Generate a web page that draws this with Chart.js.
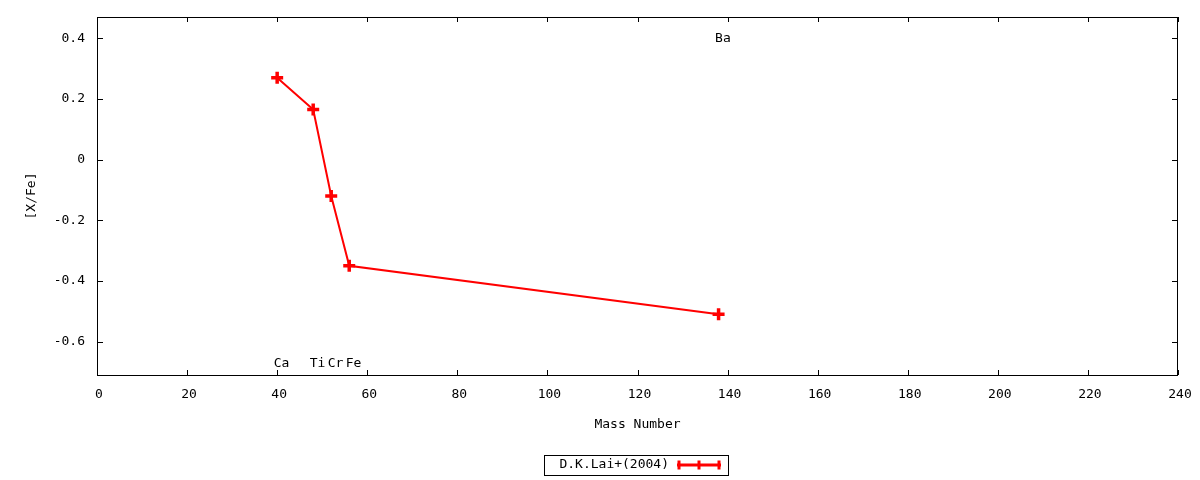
<!DOCTYPE html>
<html>
<head>
<meta charset="utf-8">
<script src="https://cdn.jsdelivr.net/npm/chart.js@4.4.1/dist/chart.umd.min.js"></script>
<style>
  html, body { margin: 0; padding: 0; background: #fff; }
  #wrap { width: 1200px; height: 480px; }
</style>
</head>
<body>
<div id="wrap"><canvas id="abund"></canvas></div>
<script>
// abundances of D.K.Lai+(2004)
var elements = ["Ca", "Ti", "Cr", "Fe", "Ba"];
var massNumber = [40, 48, 52, 56, 138];
var xFe = [0.27, 0.165, -0.12, -0.35, -0.51];
// where the element names sit (y value)
var labelY = [-0.672, -0.672, -0.672, -0.672, 0.40];

var xTicks = [0, 20, 40, 60, 80, 100, 120, 140, 160, 180, 200, 220, 240];
var yTicks = [-0.6, -0.4, -0.2, 0, 0.2, 0.4];

var FONT = "'DejaVu Sans Mono', monospace";

var points = [];
for (var i = 0; i < massNumber.length; i++) {
    points.push({x: massNumber[i], y: xFe[i]});
}

// gnuplot look: full frame, inward ticks, labels, boxed key
var gnuplotFrame = {
    id: 'gnuplotFrame',
    afterDraw: function(chart) {
        var ctx = chart.ctx;
        var a = chart.chartArea;
        var xs = chart.scales.x, ys = chart.scales.y;
        ctx.save();
        ctx.strokeStyle = '#000';
        ctx.lineWidth = 1;
        ctx.strokeRect(a.left + 0.5, a.top + 0.5, a.right - a.left - 1, a.bottom - a.top);

        ctx.beginPath();
        xTicks.forEach(function(v) {
            var px = Math.round(xs.getPixelForValue(v)) + 0.5;
            ctx.moveTo(px, a.bottom); ctx.lineTo(px, a.bottom - 5);
            ctx.moveTo(px, a.top); ctx.lineTo(px, a.top + 5);
        });
        yTicks.forEach(function(v) {
            var py = Math.round(ys.getPixelForValue(v)) + 0.5;
            ctx.moveTo(a.left, py); ctx.lineTo(a.left + 6, py);
            ctx.moveTo(a.right, py); ctx.lineTo(a.right - 6, py);
        });
        ctx.stroke();

        ctx.fillStyle = '#000';
        ctx.font = '13px ' + FONT;
        ctx.textBaseline = 'middle';
        ctx.textAlign = 'left';
        for (var i = 0; i < elements.length; i++) {
            ctx.fillText(elements[i], xs.getPixelForValue(massNumber[i]) - 3.5, ys.getPixelForValue(labelY[i]));
        }

        ctx.textAlign = 'center';
        ctx.fillText('Mass Number', (a.left + a.right) / 2, 425);
        ctx.save();
        ctx.translate(32, (a.top + a.bottom) / 2);
        ctx.rotate(-Math.PI / 2);
        ctx.fillText('[X/Fe]', 0, 0);
        ctx.restore();

        // key
        ctx.strokeRect(544.5, 455.5, 184, 20);
        ctx.textAlign = 'right';
        ctx.fillText(chart.data.datasets[0].label, 669, 465);
        ctx.strokeStyle = '#ff0000';
        ctx.lineWidth = 3;
        ctx.beginPath();
        ctx.moveTo(677, 465); ctx.lineTo(721, 465);
        [679, 699, 719].forEach(function(px) {
            ctx.moveTo(px, 460.5); ctx.lineTo(px, 469.5);
        });
        ctx.stroke();
        ctx.restore();
    }
};

var ctx = document.getElementById("abund");
var myChart = new Chart(ctx, {
    type: 'line',
    data: {
        datasets: [
            {
                label: "D.K.Lai+(2004)",
                data: points,
                borderColor: "#ff0000",
                backgroundColor: "#ff0000",
                borderWidth: 2,
                pointStyle: 'cross',
                pointRadius: 6,
                pointBorderWidth: 3.5,
                tension: 0
            }
        ]
    },
    options: {
        responsive: true,
        maintainAspectRatio: false,
        animation: false,
        layout: { padding: { top: 17, right: 22, left: 0, bottom: 0 } },
        plugins: { legend: { display: false }, tooltip: { enabled: false } },
        scales: {
            x: {
                type: 'linear',
                min: 0,
                max: 240,
                afterBuildTicks: function(scale) {
                    scale.ticks = xTicks.map(function(v) { return {value: v}; });
                },
                afterFit: function(scale) {
                    scale.height = 105;
                    scale.paddingLeft = 0;
                    scale.paddingRight = 0;
                },
                grid: { display: false, drawTicks: false, tickLength: 0 },
                border: { display: false },
                ticks: {
                    color: '#000',
                    padding: 12,
                    labelOffset: 2,
                    maxRotation: 0,
                    font: { family: FONT, size: 13 },
                    callback: function(v) { return String(v); }
                }
            },
            y: {
                type: 'linear',
                min: -0.71,
                max: 0.47,
                afterBuildTicks: function(scale) {
                    scale.ticks = yTicks.map(function(v) { return {value: v}; });
                },
                afterFit: function(scale) {
                    scale.width = 97;
                    scale.paddingTop = 0;
                    scale.paddingBottom = 0;
                },
                grid: { display: false, drawTicks: false, tickLength: 0 },
                border: { display: false },
                ticks: {
                    color: '#000',
                    padding: 12,
                    font: { family: FONT, size: 13 },
                    callback: function(v) { return Math.abs(v) < 1e-9 ? '0' : v.toFixed(1); }
                }
            }
        }
    },
    plugins: [gnuplotFrame]
});
</script>
</body>
</html>
